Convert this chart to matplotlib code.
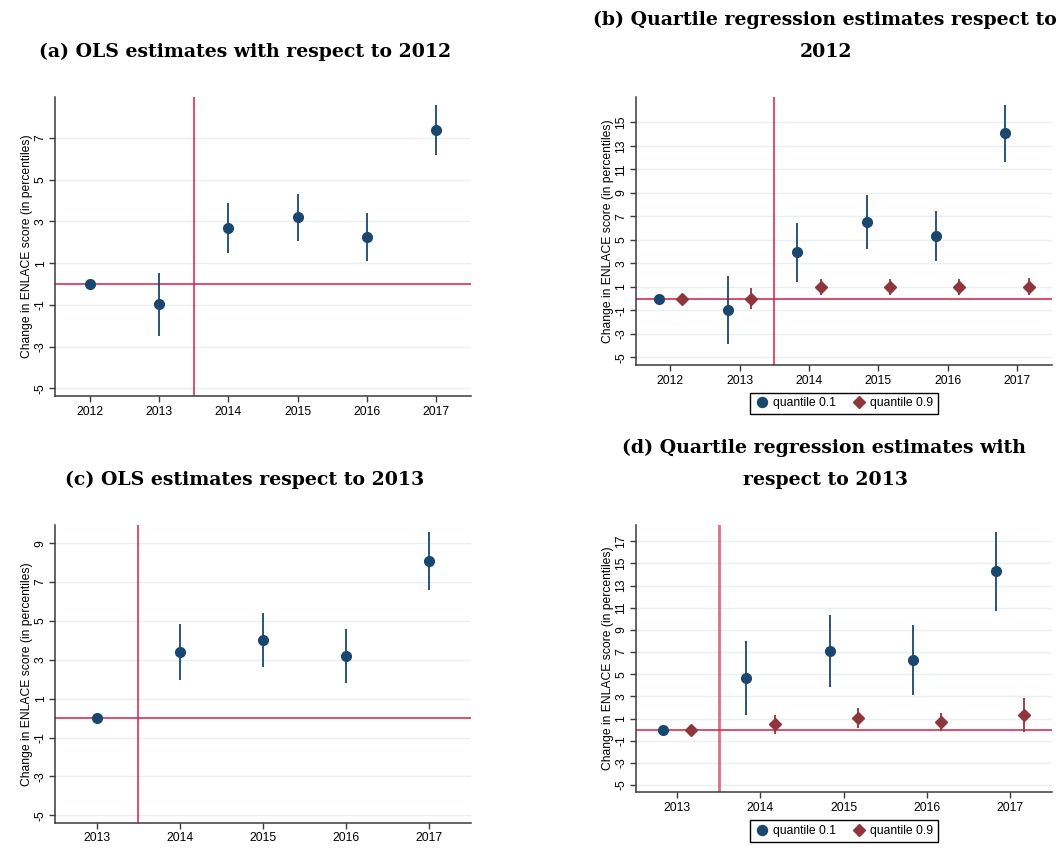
import matplotlib
matplotlib.use("Agg")
import matplotlib.pyplot as plt
from matplotlib.lines import Line2D

# Event-study estimates (change in ENLACE score, percentiles)
years_12 = [2012, 2013, 2014, 2015, 2016, 2017]
years_13 = [2013, 2014, 2015, 2016, 2017]

ols12_est = [0.0, -0.97, 2.69, 3.21, 2.25, 7.38]
ols12_lo = [0.0, -2.49, 1.47, 2.06, 1.10, 6.19]
ols12_hi = [0.0, 0.54, 3.90, 4.34, 3.39, 8.58]

q10_12_est = [0.0, -0.97, 3.94, 6.49, 5.32, 14.06]
q10_12_lo = [0.0, -3.90, 1.43, 4.19, 3.20, 11.65]
q10_12_hi = [0.0, 1.95, 6.46, 8.81, 7.45, 16.47]
q90_12_est = [0.0, 0.0, 1.0, 1.0, 1.0, 1.0]
q90_12_lo = [0.0, -0.91, 0.28, 0.30, 0.30, 0.27]
q90_12_hi = [0.0, 0.87, 1.69, 1.64, 1.64, 1.72]

ols13_est = [0.0, 3.38, 4.03, 3.17, 8.06]
ols13_lo = [0.0, 1.96, 2.63, 1.80, 6.57]
ols13_hi = [0.0, 4.82, 5.42, 4.58, 9.55]

q10_13_est = [0.0, 4.69, 7.10, 6.26, 14.29]
q10_13_lo = [0.0, 1.35, 3.87, 3.11, 10.74]
q10_13_hi = [0.0, 8.03, 10.32, 9.42, 17.84]
q90_13_est = [0.0, 0.48, 1.05, 0.69, 1.29]
q90_13_lo = [0.0, -0.37, 0.15, -0.12, -0.26]
q90_13_hi = [0.0, 1.32, 1.95, 1.53, 2.82]

NAVY = "#1a476f"
MAROON = "#90353b"
RED = "#d41f48"
GRID = "#e8f0f1"
AXC = "#3a3a3a"
SANS = "Liberation Sans"
SERIF = "DejaVu Serif"
FS = 8.7
YLABEL = "Change in ENLACE score (in percentiles)"


def style_axes(ax, years, yticks, ylim):
    ax.set_xlim(years[0] - 0.5, years[-1] + 0.5)
    ax.set_ylim(*ylim)
    ax.set_xticks(years)
    ax.set_xticklabels([str(y) for y in years], fontsize=FS, family=SANS)
    ax.set_yticks(yticks)
    ax.set_yticklabels([str(t) for t in yticks], fontsize=FS, family=SANS,
                       rotation=90, va="center")
    ax.set_ylabel(YLABEL, fontsize=FS, family=SANS, labelpad=1)
    for s in ["top", "right"]:
        ax.spines[s].set_visible(False)
    for s in ["left", "bottom"]:
        ax.spines[s].set_color(AXC)
        ax.spines[s].set_linewidth(1.1)
    ax.tick_params(direction="out", length=4, width=1, color=AXC, pad=3)
    ax.tick_params(axis="y", pad=2)
    for t in yticks:
        ax.axhline(t, color=GRID, lw=1.0, zorder=0)


def draw_series(ax, x, est, lo, hi, color, marker, ms):
    ax.vlines(x, lo, hi, color=color, lw=1.3, zorder=3)
    ax.plot(x, est, linestyle="none", marker=marker, color=color,
            markersize=ms, zorder=4)


fig = plt.figure(figsize=(10.63, 8.56), dpi=100)

ax_a = fig.add_axes([0.0517, 0.5374, 0.3914, 0.3493])
ax_b = fig.add_axes([0.598, 0.5736, 0.3913, 0.3134])
ax_c = fig.add_axes([0.0517, 0.0389, 0.3914, 0.3478])
ax_d = fig.add_axes([0.598, 0.0744, 0.3913, 0.3123])

off = 0.17

# (a) OLS relative to 2012
style_axes(ax_a, years_12, [-5, -3, -1, 1, 3, 5, 7], (-5.37, 8.97))
ax_a.axhline(0, color=RED, lw=1.1, zorder=2)
ax_a.axvline(2013.5, color=RED, lw=1.1, zorder=2)
draw_series(ax_a, years_12, ols12_est, ols12_lo, ols12_hi, NAVY, "o", 7)

# (b) quantile regressions relative to 2012
style_axes(ax_b, years_12, list(range(-5, 16, 2)), (-5.65, 17.18))
ax_b.axhline(0, color=RED, lw=1.4, alpha=0.8, zorder=2)
ax_b.axvline(2013.5, color=RED, lw=1.1, zorder=2)
draw_series(ax_b, [y - off for y in years_12], q10_12_est, q10_12_lo, q10_12_hi, NAVY, "o", 7)
draw_series(ax_b, [y + off for y in years_12], q90_12_est, q90_12_lo, q90_12_hi, MAROON, "D", 6.4)

# (c) OLS relative to 2013
style_axes(ax_c, years_13, [-5, -3, -1, 1, 3, 5, 7, 9], (-5.38, 9.93))
ax_c.axhline(0, color=RED, lw=1.1, zorder=2)
ax_c.axvline(2013.5, color=RED, lw=1.1, zorder=2)
draw_series(ax_c, years_13, ols13_est, ols13_lo, ols13_hi, NAVY, "o", 7)

# (d) quantile regressions relative to 2013
style_axes(ax_d, years_13, list(range(-5, 18, 2)), (-5.66, 18.47))
ax_d.axhline(0, color=RED, lw=1.1, zorder=2)
ax_d.axvline(2013.5, color=RED, lw=2.0, alpha=0.65, zorder=2)
draw_series(ax_d, [y - off for y in years_13], q10_13_est, q10_13_lo, q10_13_hi, NAVY, "o", 7)
draw_series(ax_d, [y + off for y in years_13], q90_13_est, q90_13_lo, q90_13_hi, MAROON, "D", 6.4)

handles = [
    Line2D([], [], linestyle="none", marker="o", color=NAVY, markersize=7.2, label="quantile 0.1"),
    Line2D([], [], linestyle="none", marker="D", color=MAROON, markersize=6.6, label="quantile 0.9"),
]
for ax, yc in [(ax_b, 0.5288), (ax_d, 0.0294)]:
    leg = ax.legend(handles=handles, loc="center", bbox_to_anchor=(0.794, yc),
                    bbox_transform=fig.transFigure, ncol=2, frameon=True,
                    fancybox=False, edgecolor="black", framealpha=1,
                    prop={"family": SANS, "size": FS}, handletextpad=0.3,
                    columnspacing=1.3, borderpad=0.4, handlelength=1.2)
    leg.get_frame().set_linewidth(1.0)

# panel titles
tkw = dict(family=SERIF, fontweight="bold", fontsize=13.6, ha="center", va="center")
fig.text(0.2305, 1 - 52 / 856, "(a) OLS estimates with respect to 2012", **tkw)
fig.text(0.776, 1 - 20 / 856, "(b) Quartile regression estimates respect to", **tkw)
fig.text(0.777, 1 - 52 / 856, "2012", **tkw)
fig.text(0.2305, 1 - 480 / 856, "(c) OLS estimates respect to 2013", **tkw)
fig.text(0.775, 1 - 448 / 856, "(d) Quartile regression estimates with", **tkw)
fig.text(0.777, 1 - 480 / 856, "respect to 2013", **tkw)

fig.savefig("out.png", dpi=100)
